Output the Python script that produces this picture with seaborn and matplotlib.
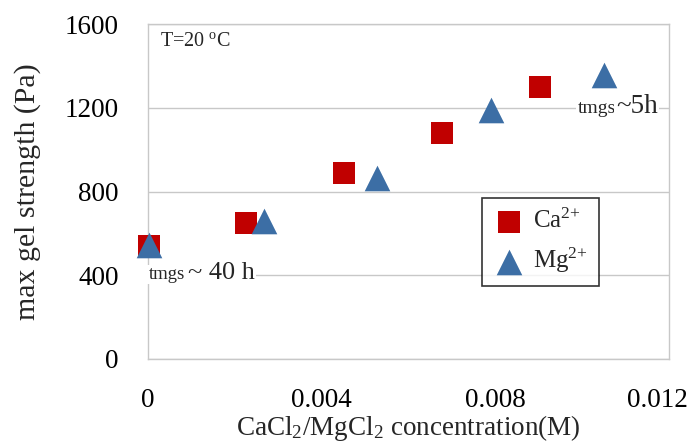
import matplotlib
matplotlib.use("Agg")
import matplotlib.pyplot as plt
import matplotlib.transforms as mtransforms
import pandas as pd
import seaborn as sns

# Data
ca_conc = [0.00003, 0.00227, 0.00453, 0.00678, 0.00903]
ca_strength = [540, 650, 888, 1082, 1301]
mg_conc = [0.00003, 0.00267, 0.00528, 0.00790, 0.01052]
mg_strength = [545, 658, 866, 1190, 1357]

x_ticks = [0, 0.004, 0.008, 0.012]
x_tick_labels = ['0', '0.004', '0.008', '0.012']
y_ticks = [0, 400, 800, 1200, 1600]

red = '#C00000'
blue = '#3C6EA5'
grid_gray = '#C8C8C8'

sns.set_style('white')
plt.rcParams['font.family'] = ['Liberation Serif', 'DejaVu Serif']
plt.rcParams['mathtext.fontset'] = 'custom'
plt.rcParams['mathtext.rm'] = 'Liberation Serif'
plt.rcParams['mathtext.it'] = 'Liberation Serif:italic'

df_ca = pd.DataFrame({'conc': ca_conc, 'strength': ca_strength})
df_mg = pd.DataFrame({'conc': mg_conc, 'strength': mg_strength})

fig = plt.figure(figsize=(6.94, 4.43), dpi=100)
ax = fig.add_axes([0.2128, 0.1903, 0.7508, 0.7547])

sns.scatterplot(data=df_ca, x='conc', y='strength', marker='s', s=230,
                color=red, linewidth=0, label=r'Ca$^{2{+}}$', ax=ax, zorder=3,
                clip_on=False)
sns.scatterplot(data=df_mg, x='conc', y='strength', marker='^', s=340,
                color=blue, linewidth=0, label=r'Mg$^{2{+}}$', ax=ax, zorder=4,
                clip_on=False)

ax.set_xlim(0, 0.012)
ax.set_ylim(0, 1600)
ax.set_xticks(x_ticks)
ax.set_xticklabels(x_tick_labels)
ax.set_yticks(y_ticks)
ax.tick_params(axis='both', labelsize=19.5, colors=grid_gray, labelcolor='black',
               direction='out')
ax.tick_params(axis='y', length=8, width=1, pad=13)
ax.tick_params(axis='x', length=10, width=1, pad=11)
ax.yaxis.grid(True, color=grid_gray, linewidth=1)
ax.xaxis.grid(False)
for sp in ax.spines.values():
    sp.set_color(grid_gray)
    sp.set_linewidth(1)
    sp.set_visible(True)

# last x tick label sits a little to the left in the reference
last = ax.get_xticklabels()[-1]
last.set_transform(last.get_transform() +
                   mtransforms.ScaledTranslation(-8 / 72, 0, fig.dpi_scale_trans))

ax.set_xlabel(r'CaCl$_2$/MgCl$_2$ concentration(M)', fontsize=19.5, labelpad=0)
ax.set_ylabel('max gel strength (Pa)', fontsize=21.5, labelpad=17)

ax.text(0.024, 0.978, r'T=20 $^{\rm o}$C', transform=ax.transAxes,
        fontsize=14.5, va='top', ha='left')

box = dict(facecolor='white', edgecolor='none', pad=1)
ax.text(0.00002, 381, 'tmgs', fontsize=13.5, ha='left', va='baseline', bbox=box, zorder=5)
ax.text(0.00092, 381, '~ 40 h', fontsize=19, ha='left', va='baseline', bbox=box, zorder=5)
ax.text(0.0099, 1176, 'tmgs', fontsize=14, ha='left', va='baseline', bbox=box, zorder=5)
ax.text(0.01078, 1176, '~5h', fontsize=19.5, ha='left', va='baseline', bbox=box, zorder=5)

leg = ax.legend(loc='upper left', bbox_to_anchor=(0.641, 0.481), fontsize=18,
                frameon=True, fancybox=False, handletextpad=0.3,
                borderpad=0.45, labelspacing=0.5, handlelength=1.3,
                borderaxespad=0)
leg.get_frame().set_edgecolor('black')
leg.get_frame().set_linewidth(1.2)

fig.savefig('out.png', dpi=100)
